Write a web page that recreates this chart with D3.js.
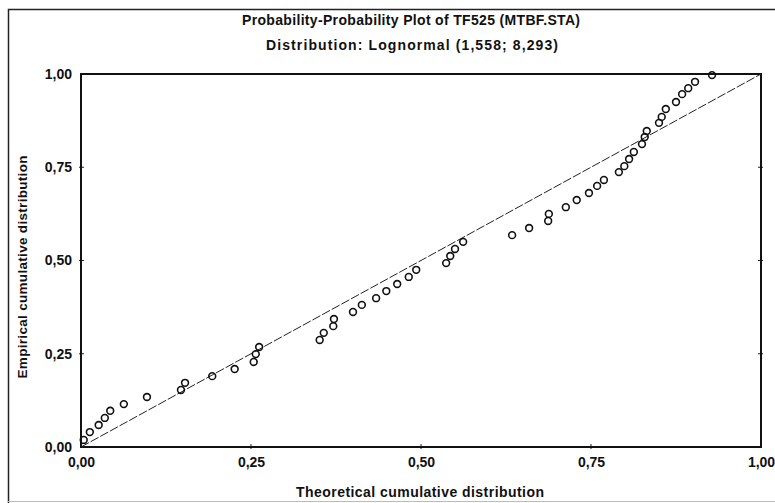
<!DOCTYPE html>
<html lang="en">
<head>
<meta charset="utf-8">
<script type="text/javascript" src="https://cdnjs.cloudflare.com/ajax/libs/d3/7.8.5/d3.min.js"></script>
<style>
body { margin: 0; background: #fff; }
text { font-family: "Liberation Sans", Arial, sans-serif; font-weight: bold; fill: #111; }
</style>
</head>
<body>
<script type="text/javascript">
    // values
    var theoretical = [0.004, 0.013, 0.026, 0.035, 0.043, 0.063, 0.097, 0.147, 0.153, 0.193,
                       0.226, 0.254, 0.257, 0.262, 0.351, 0.357, 0.371, 0.372, 0.400, 0.413,
                       0.434, 0.449, 0.465, 0.482, 0.493, 0.537, 0.543, 0.550, 0.562, 0.634,
                       0.659, 0.687, 0.688, 0.713, 0.729, 0.747, 0.759, 0.769, 0.791, 0.799,
                       0.806, 0.813, 0.825, 0.829, 0.832, 0.850, 0.854, 0.860, 0.875, 0.884,
                       0.893, 0.903, 0.928]
    var empirical = [0.019, 0.040, 0.059, 0.078, 0.097, 0.115, 0.134, 0.153, 0.172, 0.190,
                     0.209, 0.228, 0.249, 0.268, 0.287, 0.306, 0.324, 0.343, 0.362, 0.381,
                     0.399, 0.418, 0.437, 0.456, 0.475, 0.493, 0.512, 0.531, 0.550, 0.568,
                     0.587, 0.606, 0.625, 0.643, 0.662, 0.681, 0.700, 0.716, 0.737, 0.753,
                     0.772, 0.791, 0.812, 0.831, 0.847, 0.869, 0.885, 0.906, 0.925, 0.946,
                     0.962, 0.979, 0.997]
    var xTicks = [0, 0.25, 0.5, 0.75, 1]
    var yTicks = [0, 0.25, 0.5, 0.75, 1]
    var refLine = [[0, 0], [1, 1]]

    var title = "Probability-Probability Plot of TF525 (MTBF.STA)"
    var subtitle = "Distribution: Lognormal (1,558; 8,293)"
    var xTitle = "Theoretical cumulative distribution"
    var yTitle = "Empirical cumulative distribution"

    var w = 775
    var h = 503
    // plot box (window.top is read-only, so own names here)
    var pL = 81, pR = 761, pT = 74, pB = 447

    var svg = d3.select("body")
                .append("svg")
                .attr("width", w)
                .attr("height", h)

    var x = d3.scaleLinear().domain([0, 1]).range([pL, pR])
    var y = d3.scaleLinear().domain([0, 1]).range([pB, pT])
    var fmt = function(d) { return d3.format(".2f")(d).replace(".", ",") }

    // outer frame of the page
    svg.append("path")
        .attr("d", "M775,9.5 H8.5 V503")
        .attr("fill", "none")
        .attr("stroke", "#222")
        .attr("stroke-width", 1.5)
    svg.append("line")
        .attr("x1", 8).attr("x2", 775)
        .attr("y1", 501.5).attr("y2", 501.5)
        .attr("stroke", "#bbb")
        .attr("stroke-width", 1)

    svg.append("text")
        .attr("x", 411).attr("y", 25)
        .attr("text-anchor", "middle")
        .attr("font-size", 14)
        .attr("textLength", 338)
        .text(title)
    svg.append("text")
        .attr("x", 412).attr("y", 50)
        .attr("text-anchor", "middle")
        .attr("font-size", 14)
        .attr("textLength", 292)
        .text(subtitle)

    // axes
    svg.append("g")
        .attr("transform", "translate(0," + pB + ")")
        .call(d3.axisBottom(x).tickValues(xTicks).tickSize(0).tickPadding(10).tickFormat(fmt))
        .call(function(g) {
            g.select(".domain").remove()
            g.selectAll("text").attr("font-size", 14).attr("font-family", null).style("fill", "#111")
        })
    svg.append("g")
        .attr("transform", "translate(" + pL + ",0)")
        .call(d3.axisLeft(y).tickValues(yTicks).tickSize(0).tickPadding(9).tickFormat(fmt))
        .call(function(g) {
            g.select(".domain").remove()
            g.selectAll("text").attr("font-size", 14).attr("font-family", null).style("fill", "#111")
        })

    // small tick marks straddling the frame
    svg.selectAll(".xtick")
        .data(xTicks.slice(1, -1))
        .enter()
        .append("line")
        .attr("x1", function(d) { return x(d) })
        .attr("x2", function(d) { return x(d) })
        .attr("y1", pB - 3)
        .attr("y2", pB + 2)
        .attr("stroke", "#222")
    svg.selectAll(".ytick")
        .data(yTicks.slice(1, -1))
        .enter()
        .append("line")
        .attr("x1", pL - 2)
        .attr("x2", pL + 3)
        .attr("y1", function(d) { return y(d) })
        .attr("y2", function(d) { return y(d) })
        .attr("stroke", "#222")
    svg.selectAll(".ytickr")
        .data(yTicks.slice(1, -1))
        .enter()
        .append("line")
        .attr("x1", pR - 3)
        .attr("x2", pR + 2)
        .attr("y1", function(d) { return y(d) })
        .attr("y2", function(d) { return y(d) })
        .attr("stroke", "#222")

    svg.append("rect")
        .attr("x", pL).attr("y", pT)
        .attr("width", pR - pL).attr("height", pB - pT)
        .attr("fill", "none")
        .attr("stroke", "#111")
        .attr("stroke-width", 2)

    svg.append("text")
        .attr("x", 420).attr("y", 497)
        .attr("text-anchor", "middle")
        .attr("font-size", 14)
        .attr("textLength", 248)
        .text(xTitle)
    svg.append("text")
        .attr("transform", "translate(27," + 267 + ") rotate(-90)")
        .attr("text-anchor", "middle")
        .attr("font-size", 13.5)
        .attr("textLength", 223)
        .text(yTitle)

    // reference line
    svg.append("path")
        .datum(refLine)
        .attr("d", d3.line().x(function(d) { return x(d[0]) }).y(function(d) { return y(d[1]) }))
        .attr("fill", "none")
        .attr("stroke", "#222")
        .attr("stroke-width", 1)
        .attr("stroke-dasharray", "9,2")

    // points
    svg.selectAll("circle")
        .data(theoretical)
        .enter()
        .append("circle")
        .attr("cx", function(d) { return x(d) })
        .attr("cy", function(d, i) { return y(empirical[i]) })
        .attr("r", 3.4)
        .attr("fill", "none")
        .attr("stroke", "#111")
        .attr("stroke-width", 1.6)
</script>
</body>
</html>
